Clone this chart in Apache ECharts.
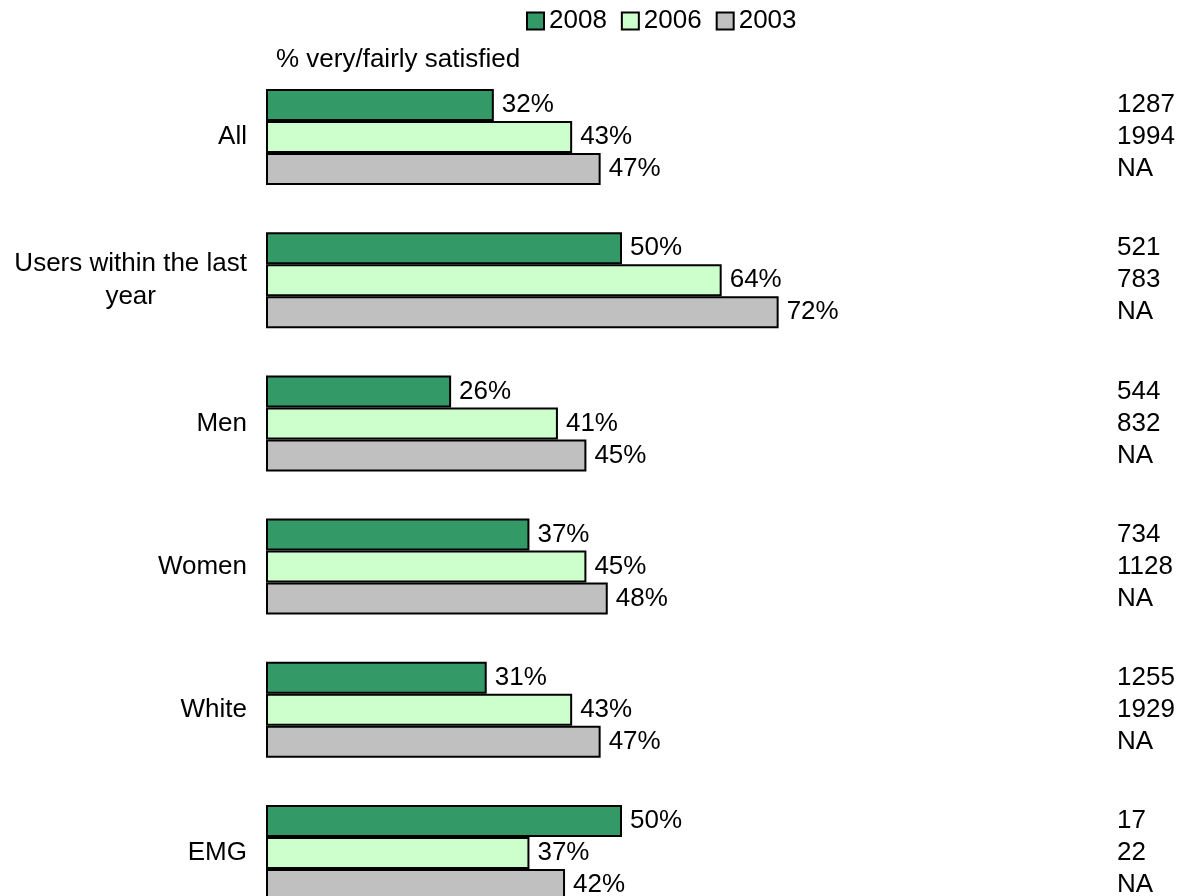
<!DOCTYPE html>
<html>
<head>
<meta charset="utf-8">
<script src="https://cdn.jsdelivr.net/npm/echarts@6/dist/echarts.min.js"></script>
<style>
  html, body { margin: 0; padding: 0; background: #fff; }
  #chart { width: 1184px; height: 896px; }
</style>
</head>
<body>
<div id="chart"></div>
<script>
// Satisfaction by group, three survey waves
const categories = ['All', 'Users within the last\nyear', 'Men', 'Women', 'White', 'EMG'];
const seriesNames = ['2008', '2006', '2003'];
const values2008 = [32, 50, 26, 37, 31, 50];
const values2006 = [43, 64, 41, 45, 43, 37];
const values2003 = [47, 72, 45, 48, 47, 42];
// Base sizes shown at the right of each bar
const bases2008 = ['1287', '521', '544', '734', '1255', '17'];
const bases2006 = ['1994', '783', '832', '1128', '1929', '22'];
const bases2003 = ['NA', 'NA', 'NA', 'NA', 'NA', 'NA'];
const titleText = '% very/fairly satisfied';

const FONT = "'Liberation Sans', Arial, sans-serif";
const FS = 26;
const colors = ['#339966', '#CCFFCC', '#C0C0C0'];
const CAT_GAP = 0.33;

const valueSets = [values2008, values2006, values2003];
const baseSets = [bases2008, bases2006, bases2003];

const barSeries = seriesNames.map((name, j) => ({
  name: name,
  type: 'bar',
  data: valueSets[j],
  barGap: '0%',
  barCategoryGap: (CAT_GAP * 100) + '%',
  itemStyle: { color: colors[j], borderColor: '#000', borderWidth: 2 },
  label: {
    show: true,
    position: 'right',
    distance: 8,
    formatter: '{c}%',
    color: '#000',
    fontFamily: FONT,
    fontSize: FS
  },
  emphasis: { disabled: true }
}));

// One row per bar: [category index, bar index within the group, text]
const baseRows = [];
categories.forEach((c, i) => {
  baseSets.forEach((set, j) => baseRows.push([i, j, set[i]]));
});

const baseSeries = {
  type: 'custom',
  name: 'bases',
  coordinateSystem: 'cartesian2d',
  encode: { y: 0, x: 1 },
  data: baseRows,
  silent: true,
  renderItem: function (params, api) {
    const cat = api.value(0);
    const idx = api.value(1);
    const center = api.coord([0, cat])[1];
    const band = api.size([0, 1])[1];
    const barW = band * (1 - CAT_GAP) / 3;
    const cs = params.coordSys;
    return {
      type: 'text',
      style: {
        x: cs.x + cs.width + 139,
        y: center + (idx - 1) * barW,
        text: baseRows[params.dataIndex][2],
        fill: '#000',
        font: FS + 'px ' + FONT,
        align: 'left',
        verticalAlign: 'middle'
      }
    };
  }
};

const chart = echarts.init(document.getElementById('chart'), null, { renderer: 'canvas' });
chart.setOption({
  animation: false,
  backgroundColor: '#fff',
  title: {
    text: titleText,
    left: 276,
    top: 47,
    padding: 0,
    textStyle: { fontFamily: FONT, fontSize: FS, fontWeight: 'normal', color: '#000' }
  },
  legend: {
    data: seriesNames,
    left: 526,
    top: 8,
    padding: 0,
    itemWidth: 17,
    itemHeight: 17,
    itemGap: 14,
    icon: 'rect',
    selectedMode: false,
    textStyle: { fontFamily: FONT, fontSize: FS, color: '#000' }
  },
  grid: { left: 266, top: 65.5, width: 712, height: 859, outerBoundsMode: 'none', containLabel: false },
  xAxis: { type: 'value', min: 0, max: 100, show: false },
  yAxis: {
    type: 'category',
    data: categories,
    inverse: true,
    axisLine: { show: false },
    axisTick: { show: false },
    splitLine: { show: false },
    axisLabel: {
      margin: 19,
      align: 'right',
      color: '#000',
      fontFamily: FONT,
      fontSize: FS,
      formatter: v => v.split('\n').map(l => '{c|' + l + '}').join('\n'),
      rich: { c: { align: 'center', fontFamily: FONT, fontSize: FS, lineHeight: 33, color: '#000' } }
    }
  },
  series: barSeries.concat([baseSeries])
});
</script>
</body>
</html>
